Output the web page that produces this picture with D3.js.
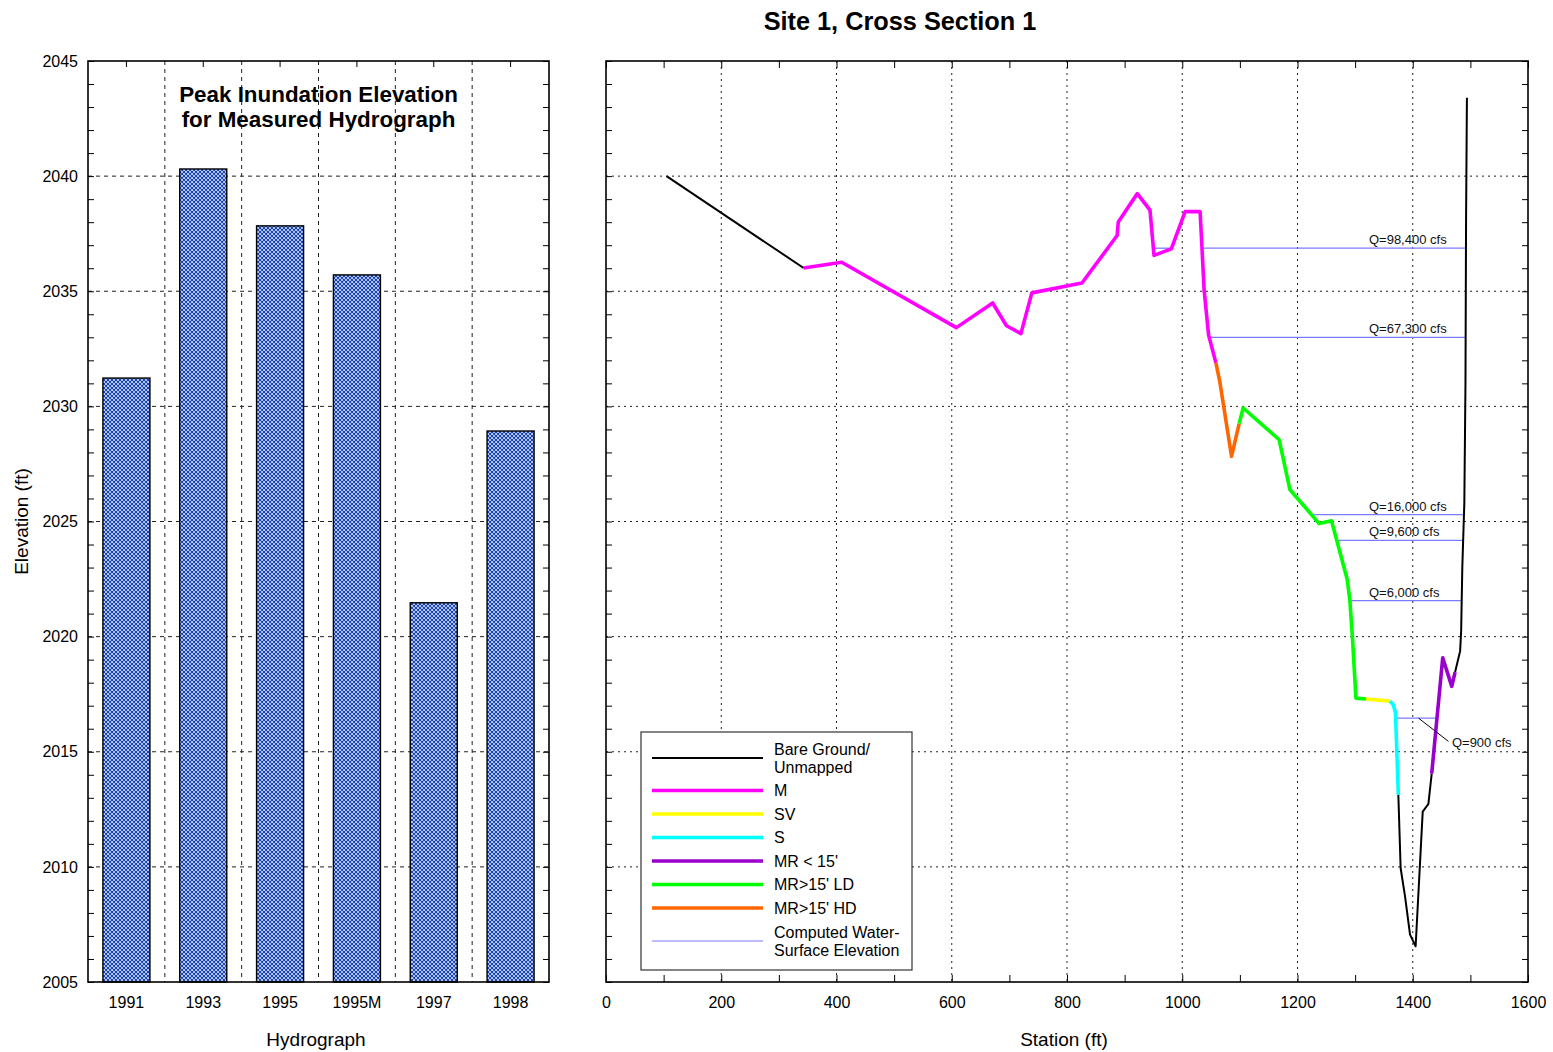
<!DOCTYPE html>
<html>
<head>
<meta charset="utf-8">
<script src="https://cdn.jsdelivr.net/npm/d3@7"></script>
<style>
  html, body { margin: 0; padding: 0; background: #fff; }
  svg { display: block; font-family: "Liberation Sans", Arial, sans-serif; }
</style>
</head>
<body>
<svg id="chart" width="1553" height="1052"></svg>
<script>
// ---------------- DATA ----------------
const hydrographs = ["1991", "1993", "1995", "1995M", "1997", "1998"];
const peakElevations = [2031.23, 2040.31, 2037.84, 2035.71, 2021.47, 2028.93];
const elevationTicks = [2005, 2010, 2015, 2020, 2025, 2030, 2035, 2040, 2045];
const stationTicks = [0, 200, 400, 600, 800, 1000, 1200, 1400, 1600];

// Ground profile segments [station, elevation] by vegetation class
const bareGroundA = [[105, 2040.0], [343, 2036.01]];
const segM = [[343, 2036.01], [409, 2036.26], [608, 2033.42], [671, 2034.49], [695, 2033.5],
  [720, 2033.16], [739, 2034.93], [826, 2035.36], [887, 2037.42], [889, 2038.01],
  [922, 2039.24], [944, 2038.52], [951, 2036.56], [981, 2036.84], [1005, 2038.46],
  [1031, 2038.46], [1038, 2035.04], [1045.7, 2033.1], [1058.4, 2031.89]];
const segHD = [[1058.4, 2031.89], [1065, 2031.1], [1085.5, 2027.83], [1098.8, 2029.25]];
const segLD = [[1098.8, 2029.25], [1105.7, 2029.93], [1168.2, 2028.55], [1186.7, 2026.39],
  [1237.6, 2024.91], [1259, 2025.03], [1286.2, 2022.49], [1290.8, 2021.6],
  [1295.4, 2019.93], [1301.4, 2017.33], [1318.8, 2017.29]];
const segSV = [[1318.8, 2017.29], [1360.5, 2017.2]];
const segS = [[1360.5, 2017.2], [1366, 2017.05], [1370, 2016.7], [1375, 2013.12]];
const bareGroundB = [[1375, 2013.12], [1379, 2009.94], [1386.6, 2008.72], [1395.3, 2007.06],
  [1405, 2006.55], [1417.3, 2012.4], [1427.1, 2012.73], [1432.9, 2014.05]];
const segMR = [[1432.9, 2014.05], [1452, 2019.08], [1467.7, 2017.84], [1473.5, 2018.46]];
const bareGroundC = [[1473.5, 2018.46], [1482.2, 2019.37], [1484, 2020.26], [1486, 2023],
  [1489.5, 2025.8], [1491.5, 2031], [1492.5, 2038], [1494, 2043.4]];

// Computed water-surface elevations
const flowLabels = ["Q=98,400 cfs", "Q=67,300 cfs", "Q=16,000 cfs", "Q=9,600 cfs", "Q=6,000 cfs", "Q=900 cfs"];
const wsElevations = [2036.87, 2033.0, 2025.3, 2024.18, 2021.56, 2016.46];
const wsExtents = [[[950.5, 981.5], [1035, 1492]], [[1046, 1491.5]], [[1224, 1489.2]],
  [[1266, 1487.8]], [[1290.8, 1485]], [[1369, 1443.5]]];
const q900Leader = [[1410, 2016.46], [1462, 2015.45]];
const q900LabelAt = [1468, 2015.22];

const legendItems = [
  { label: ["Bare Ground/", "Unmapped"], color: "#000000", width: 2 },
  { label: ["M"], color: "#ff00ff", width: 3.5 },
  { label: ["SV"], color: "#ffff00", width: 3.5 },
  { label: ["S"], color: "#00ffff", width: 3.5 },
  { label: ["MR < 15'"], color: "#9900cc", width: 3.5 },
  { label: ["MR>15' LD"], color: "#00ff00", width: 3.5 },
  { label: ["MR>15' HD"], color: "#ff6600", width: 3.5 },
  { label: ["Computed Water-", "Surface Elevation"], color: "#7b7bff", width: 1.2 }
];

// ---------------- LAYOUT ----------------
const svg = d3.select("#chart");
const plotTop = 61, plotBottom = 982;
const L = { left: 88, right: 549 };
const R = { left: 606, right: 1528 };
const tickFont = 16;
const fmt = d3.format("d");

const y = d3.scaleLinear().domain([2005, 2045]).range([plotBottom, plotTop]);
const xBand = d3.scaleBand().domain(hydrographs).range([L.left, L.right])
  .paddingInner(0.388).paddingOuter(0.194);
const xR = d3.scaleLinear().domain([0, 1600]).range([R.left, R.right]);

// crosshatch pattern
const defs = svg.append("defs");
const pat = defs.append("pattern").attr("id", "hatch").attr("patternUnits", "userSpaceOnUse")
  .attr("width", 4).attr("height", 4);
pat.append("rect").attr("width", 4).attr("height", 4).attr("fill", "#f2f5fc");
pat.append("path").attr("d", "M-1,1 L1,-1 M0,4 L4,0 M3,5 L5,3 M-1,3 L1,5 M0,0 L4,4 M3,-1 L5,1")
  .attr("stroke", "#0b3cb0").attr("stroke-width", 1.1);

// ======== LEFT CHART ========
const gL = svg.append("g");
const step = xBand.step();
const bandBounds = hydrographs.slice(1).map(h => xBand(h) - step * xBand.paddingInner() / 2);
gL.selectAll(".vgrid").data(bandBounds).enter().append("line")
  .attr("x1", d => d).attr("x2", d => d).attr("y1", plotTop).attr("y2", plotBottom)
  .attr("stroke", "#222").attr("stroke-dasharray", "4,4");
gL.selectAll(".hgrid").data(elevationTicks.slice(1, -1)).enter().append("line")
  .attr("x1", L.left).attr("x2", L.right).attr("y1", d => y(d)).attr("y2", d => y(d))
  .attr("stroke", "#222").attr("stroke-dasharray", "4,4");

const minorElev = d3.range(2005, 2046, 1);
gL.append("g").attr("transform", `translate(${L.left},0)`)
  .call(d3.axisLeft(y).tickValues(minorElev).tickSize(-6).tickFormat(""))
  .call(g => g.select(".domain").remove());
gL.append("g").attr("transform", `translate(${L.right},0)`)
  .call(d3.axisRight(y).tickValues(minorElev).tickSize(-6).tickFormat(""))
  .call(g => g.select(".domain").remove());
gL.append("g").attr("transform", `translate(0,${plotTop})`)
  .call(d3.axisTop(xBand).tickSize(-6).tickFormat(""))
  .call(g => g.select(".domain").remove());

gL.selectAll(".bar").data(hydrographs).enter().append("rect")
  .attr("x", d => xBand(d)).attr("width", xBand.bandwidth())
  .attr("y", (d, i) => y(peakElevations[i]))
  .attr("height", (d, i) => plotBottom - y(peakElevations[i]))
  .attr("fill", "url(#hatch)").attr("stroke", "#000").attr("stroke-width", 1.4);

gL.append("rect").attr("x", L.left).attr("y", plotTop).attr("width", L.right - L.left)
  .attr("height", plotBottom - plotTop).attr("fill", "none").attr("stroke", "#000").attr("stroke-width", 1.6);

gL.append("g").attr("transform", `translate(${L.left},0)`)
  .call(d3.axisLeft(y).tickValues(elevationTicks).tickFormat(fmt).tickSize(0).tickPadding(10))
  .call(g => g.select(".domain").remove())
  .call(g => g.selectAll("text").attr("font-size", tickFont).attr("fill", "#000")
    .attr("font-family", '"Liberation Sans", Arial, sans-serif'));
gL.append("g").attr("transform", `translate(0,${plotBottom})`)
  .call(d3.axisBottom(xBand).tickSize(0).tickPadding(15))
  .call(g => g.select(".domain").remove())
  .call(g => g.selectAll("text").attr("font-size", tickFont).attr("fill", "#000")
    .attr("font-family", '"Liberation Sans", Arial, sans-serif'));

gL.append("text").attr("x", (L.left + L.right) / 2).attr("y", 102).attr("text-anchor", "middle")
  .attr("font-size", 22.4).attr("font-weight", "bold").text("Peak Inundation Elevation");
gL.append("text").attr("x", (L.left + L.right) / 2).attr("y", 127).attr("text-anchor", "middle")
  .attr("font-size", 22.4).attr("font-weight", "bold").text("for Measured Hydrograph");

svg.append("text").attr("x", 316).attr("y", 1046).attr("text-anchor", "middle")
  .attr("font-size", 19).text("Hydrograph");
svg.append("text").attr("transform", `translate(28,${(plotTop + plotBottom) / 2}) rotate(-90)`)
  .attr("text-anchor", "middle").attr("font-size", 19).text("Elevation (ft)");

// ======== RIGHT CHART ========
const gR = svg.append("g");
gR.selectAll(".vgrid").data(stationTicks.slice(1, -1)).enter().append("line")
  .attr("x1", d => xR(d)).attr("x2", d => xR(d)).attr("y1", plotTop).attr("y2", plotBottom)
  .attr("stroke", "#222").attr("stroke-dasharray", "2,4");
gR.selectAll(".hgrid").data(elevationTicks.slice(1, -1)).enter().append("line")
  .attr("x1", R.left).attr("x2", R.right).attr("y1", d => y(d)).attr("y2", d => y(d))
  .attr("stroke", "#222").attr("stroke-dasharray", "2,4");

const minorStation = d3.range(0, 1601, 100);
gR.append("g").attr("transform", `translate(${R.left},0)`)
  .call(d3.axisLeft(y).tickValues(minorElev).tickSize(-6).tickFormat(""))
  .call(g => g.select(".domain").remove());
gR.append("g").attr("transform", `translate(${R.right},0)`)
  .call(d3.axisRight(y).tickValues(minorElev).tickSize(-6).tickFormat(""))
  .call(g => g.select(".domain").remove());
gR.append("g").attr("transform", `translate(0,${plotTop})`)
  .call(d3.axisTop(xR).tickValues(minorStation).tickSize(-7).tickFormat(""))
  .call(g => g.select(".domain").remove());
gR.append("g").attr("transform", `translate(0,${plotBottom})`)
  .call(d3.axisBottom(xR).tickValues(minorStation).tickSize(-7).tickFormat(""))
  .call(g => g.select(".domain").remove());

const line = d3.line().x(d => xR(d[0])).y(d => y(d[1]));
wsElevations.forEach((e, i) => {
  wsExtents[i].forEach(ext => {
    gR.append("line").attr("x1", xR(ext[0])).attr("x2", xR(ext[1]))
      .attr("y1", y(e)).attr("y2", y(e)).attr("stroke", "#7b7bff").attr("stroke-width", 1.3);
  });
});

const segments = [
  [bareGroundA, "#000000", 2], [segM, "#ff00ff", 3.6], [segHD, "#ff6600", 3.6],
  [segLD, "#00ff00", 3.6], [segSV, "#ffff00", 3.6], [segS, "#00ffff", 3.6],
  [bareGroundB, "#000000", 2], [segMR, "#9900cc", 3.6], [bareGroundC, "#000000", 2]
];
segments.forEach(([data, color, w]) => {
  gR.append("path").attr("d", line(data)).attr("fill", "none").attr("stroke", color)
    .attr("stroke-width", w).attr("stroke-linejoin", "round");
});

wsElevations.forEach((e, i) => {
  if (i === wsElevations.length - 1) return;
  gR.append("text").attr("x", xR(1324)).attr("y", y(e) - 4).attr("font-size", 13)
    .attr("fill", "#111").text(flowLabels[i]);
});
gR.append("path").attr("d", line(q900Leader)).attr("stroke", "#000").attr("stroke-width", 1).attr("fill", "none");
gR.append("text").attr("x", xR(q900LabelAt[0])).attr("y", y(q900LabelAt[1])).attr("font-size", 13)
  .attr("fill", "#111").text(flowLabels[flowLabels.length - 1]);

const lg = gR.append("g");
lg.append("rect").attr("x", 641).attr("y", 732).attr("width", 271).attr("height", 238)
  .attr("fill", "#fff").attr("stroke", "#333").attr("stroke-width", 1.2);
const legendY = [758, 790.5, 814, 837.5, 861, 884.5, 908, 941];
legendItems.forEach((it, i) => {
  lg.append("line").attr("x1", 652).attr("x2", 763).attr("y1", legendY[i]).attr("y2", legendY[i])
    .attr("stroke", it.color).attr("stroke-width", it.width);
  const n = it.label.length;
  it.label.forEach((t, j) => {
    lg.append("text").attr("x", 774).attr("y", legendY[i] + (j - (n - 1) / 2) * 18 + 5.5)
      .attr("font-size", 16).attr("fill", "#000").text(t);
  });
});

gR.append("rect").attr("x", R.left).attr("y", plotTop).attr("width", R.right - R.left)
  .attr("height", plotBottom - plotTop).attr("fill", "none").attr("stroke", "#000").attr("stroke-width", 1.6);

gR.append("g").attr("transform", `translate(0,${plotBottom})`)
  .call(d3.axisBottom(xR).tickValues(stationTicks).tickFormat(fmt).tickSize(0).tickPadding(15))
  .call(g => g.select(".domain").remove())
  .call(g => g.selectAll("text").attr("font-size", tickFont).attr("fill", "#000")
    .attr("font-family", '"Liberation Sans", Arial, sans-serif'));

svg.append("text").attr("x", 1064).attr("y", 1046).attr("text-anchor", "middle")
  .attr("font-size", 19).text("Station (ft)");
svg.append("text").attr("x", 900).attr("y", 30).attr("text-anchor", "middle")
  .attr("font-size", 25.3).attr("font-weight", "bold").text("Site 1, Cross Section 1");
</script>
</body>
</html>
